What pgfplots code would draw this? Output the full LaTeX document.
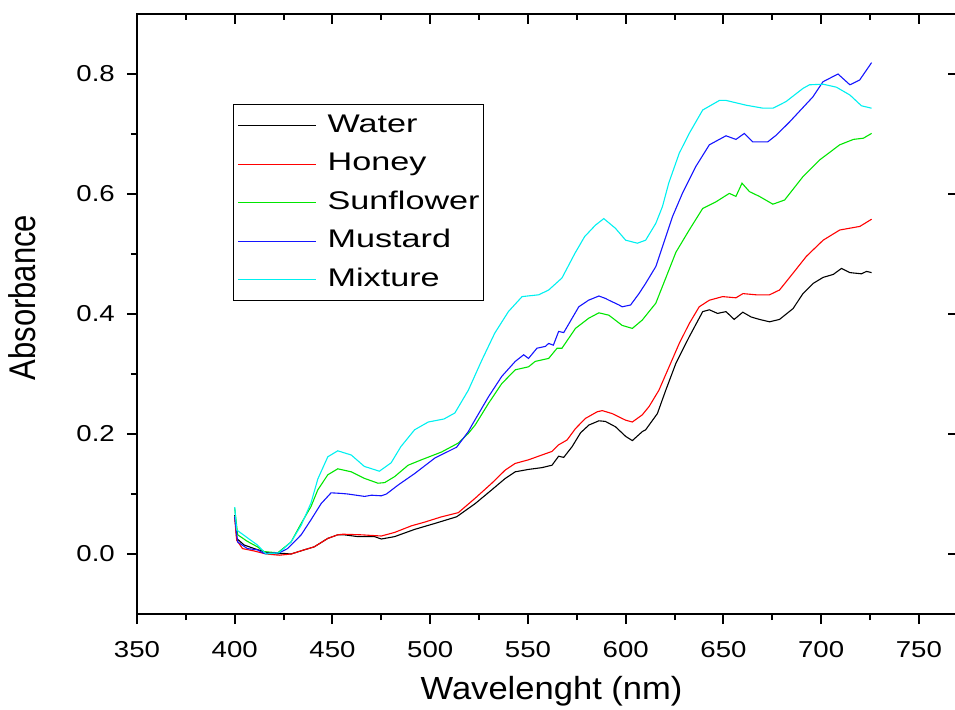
\documentclass[border=0pt]{standalone}
\usepackage{graphicx}
\usepackage{fontspec}
\setmainfont{Liberation Sans}
\newfontfamily\tickfont[FakeStretch=1.2]{Liberation Sans}
\newfontfamily\legfont[FakeStretch=1.34]{Liberation Sans}
\newfontfamily\xlabfont[FakeStretch=1.08]{Liberation Sans}
\usepackage{pgfplots}
\pgfplotsset{compat=1.18}
\usetikzlibrary{calc}
\definecolor{cgreen}{RGB}{0,230,0}
\definecolor{cblue}{RGB}{20,20,255}
\definecolor{ccyan}{RGB}{0,240,240}
\begin{document}
\begin{tikzpicture}
\begin{axis}[
  name=main,
  scale only axis, width=821pt, height=600pt,
  xmin=350, xmax=770, ymin=-0.1, ymax=0.9,
  axis line style={line width=2pt},
  xtick={350,400,450,500,550,600,650,700,750},
  xticklabels={350,400,450,500,550,600,650,700,750},
  ytick={0,0.2,0.4,0.6,0.8},
  yticklabels={0.0,0.2,0.4,0.6,0.8},
  minor x tick num=1, minor y tick num=1,
  xtick pos=left, ytick pos=left,
  tick align=outside,
  major tick length=10pt, minor tick length=6pt,
  every tick/.style={black, line width=2pt},
  every minor tick/.style={black, line width=2pt},
  /pgf/number format/assume math mode=true,
  xticklabel style={font=\tickfont\fontsize{23}{23}\selectfont, inner sep=0pt, yshift=-17pt},
  yticklabel style={font=\tickfont\fontsize{23}{23}\selectfont, inner sep=0pt, xshift=-12pt},
  xlabel={\xlabfont\fontsize{32}{32}\selectfont Wavelenght (nm)},
  xlabel style={at={(axis description cs:0.505,-0.1417)}, anchor=base},
  ylabel={\scalebox{1}[1.2]{\fontsize{31}{31}\selectfont Absorbance}},
  ylabel style={at={(axis description cs:-0.1242,0.5275)}, anchor=base},
  legend style={at={(rel axis cs:0.1169,0.85)}, anchor=north west, draw=black, line width=1.2pt,
    inner xsep=4pt, inner ysep=9.5pt, font=\legfont\fontsize{25.5}{25.5}\selectfont,
    row sep=15.5pt, nodes={inner sep=0pt, text height=18pt, text depth=5pt},
    /tikz/every odd column/.append style={column sep=11pt}},
  legend cell align=left,
  legend image code/.code={\draw[#1] (0pt,0pt) -- (78pt,0pt);},
]
\coordinate (BL) at (rel axis cs:0,0);
\coordinate (TR) at (rel axis cs:1,1);
\addplot[black, line width=1.1pt] coordinates {
(400,0.065)(401,0.026)(404.8,0.015)(410,0.009)(415,0.004)(420,0.0)(425,0.001)(428.8,0.0)(435.6,0.007)(440.7,0.012)(447.6,0.026)(452.7,0.032)(456,0.032)(463,0.029)(471.5,0.029)(475,0.025)(481.8,0.029)(492,0.041)(502.4,0.051)(513.5,0.062)(523,0.084)(531.5,0.107)(538.4,0.126)(543.5,0.137)(550.3,0.141)(557.2,0.144)(562.3,0.148)(565.7,0.163)(568.3,0.161)(572.6,0.179)(576.9,0.202)(581.2,0.215)(586.3,0.222)(589.6,0.221)(594.8,0.212)(600,0.196)(603.4,0.189)(608.5,0.204)(610.2,0.207)(616.2,0.234)(620.5,0.273)(625.7,0.318)(632.5,0.362)(639.4,0.404)(642.8,0.407)(647,0.401)(651.3,0.404)(655.5,0.391)(659.9,0.403)(664.2,0.395)(668.4,0.391)(673.6,0.387)(678.7,0.391)(685.6,0.409)(690.7,0.434)(695.9,0.451)(701,0.461)(706.2,0.466)(710.4,0.476)(714.7,0.469)(720.6,0.467)(723.2,0.471)(725.8,0.469)
};
\addlegendentry{Water}
\addplot[red, line width=1.1pt] coordinates {
(400,0.06)(401,0.023)(404,0.009)(410,0.005)(416,0.0)(422.8,-0.002)(428.8,0.0)(435.6,0.007)(440.7,0.012)(447.6,0.026)(452.7,0.032)(455.3,0.033)(464.7,0.032)(475,0.03)(481.8,0.036)(490.4,0.047)(497,0.053)(505.8,0.062)(514.4,0.069)(523,0.093)(531.5,0.118)(538.4,0.14)(543.5,0.151)(550.3,0.157)(555.4,0.163)(562.3,0.171)(565.7,0.182)(570,0.19)(574.3,0.209)(579.4,0.226)(585.4,0.237)(588,0.239)(593.1,0.234)(600,0.223)(603.4,0.22)(608.5,0.232)(612,0.246)(617,0.273)(622.2,0.312)(627.4,0.351)(632.5,0.384)(637.6,0.412)(642.8,0.423)(649.6,0.429)(656.4,0.427)(660,0.434)(666.7,0.432)(673.6,0.432)(678.7,0.44)(685.6,0.468)(692.4,0.496)(701,0.523)(709.5,0.54)(719.8,0.546)(725.8,0.558)
};
\addlegendentry{Honey}
\addplot[cgreen, line width=1.1pt] coordinates {
(400,0.076)(401.5,0.032)(406.5,0.021)(411.6,0.012)(415,0.004)(422,0.002)(428.8,0.02)(434,0.051)(439,0.079)(442.5,0.107)(447.6,0.132)(452.7,0.142)(459.6,0.137)(466.4,0.126)(473.3,0.118)(476.7,0.119)(481.8,0.129)(488.7,0.148)(495.5,0.157)(505.8,0.17)(514.4,0.185)(519.5,0.201)(523,0.215)(529.8,0.251)(536.6,0.284)(543.5,0.307)(550.3,0.312)(553.7,0.321)(560.6,0.326)(564.9,0.343)(567.4,0.343)(574.3,0.376)(581.1,0.393)(586.3,0.402)(591.4,0.398)(598.2,0.381)(603.4,0.376)(608.5,0.39)(615.4,0.418)(620.5,0.46)(625.7,0.503)(632.5,0.54)(639.4,0.576)(646.2,0.587)(653,0.601)(656.4,0.596)(659.5,0.618)(663.3,0.604)(668.4,0.596)(675.3,0.583)(681.3,0.59)(690.7,0.629)(699.3,0.657)(709.5,0.682)(716.5,0.691)(721.6,0.693)(725.8,0.701)
};
\addlegendentry{Sunflower}
\addplot[cblue, line width=1.1pt] coordinates {
(400,0.062)(401.5,0.02)(406.5,0.009)(411.6,0.007)(415,0.001)(422.8,0.002)(427,0.009)(434,0.032)(439,0.057)(444.2,0.084)(449.3,0.102)(454.4,0.101)(457.9,0.1)(466.4,0.096)(470,0.098)(475,0.097)(477.6,0.1)(483.6,0.115)(492,0.134)(502.4,0.16)(513.5,0.178)(519.5,0.204)(521.2,0.214)(529.8,0.262)(536.6,0.296)(543.5,0.321)(547.8,0.332)(550.3,0.326)(554.6,0.343)(558.9,0.346)(560.6,0.351)(563,0.348)(565.7,0.371)(568.3,0.369)(572.6,0.393)(576,0.412)(581,0.423)(586.3,0.43)(589.6,0.426)(591.4,0.423)(596.6,0.415)(598.2,0.412)(602.5,0.415)(606.8,0.434)(610.2,0.451)(615.4,0.479)(618.8,0.512)(623.9,0.562)(629,0.601)(635.9,0.646)(642.8,0.682)(651.3,0.697)(656.4,0.691)(660.7,0.701)(665,0.687)(672.7,0.687)(677,0.698)(683.8,0.72)(695.8,0.762)(700.9,0.787)(708.6,0.8)(714.7,0.782)(719.7,0.79)(725.8,0.819)
};
\addlegendentry{Mustard}
\addplot[ccyan, line width=1.1pt] coordinates {
(400,0.078)(401,0.04)(406.5,0.027)(411.6,0.015)(416,0.0)(422.6,0.002)(428.8,0.02)(434,0.048)(439,0.085)(442.5,0.125)(447.6,0.162)(452.7,0.172)(459.6,0.165)(466.3,0.146)(474,0.138)(480,0.152)(485,0.179)(492,0.207)(499,0.22)(507,0.225)(512.6,0.235)(519.5,0.273)(526.4,0.323)(533,0.368)(540,0.404)(547,0.429)(555.5,0.432)(560.6,0.44)(567.4,0.46)(574,0.501)(579,0.529)(584.5,0.548)(588.8,0.559)(594.7,0.543)(600,0.523)(606,0.518)(610.2,0.523)(615.4,0.551)(618.8,0.579)(622,0.618)(627.4,0.668)(632.5,0.701)(639.4,0.74)(648,0.756)(651.3,0.756)(661.6,0.748)(670.3,0.743)(675.4,0.743)(682,0.754)(690.7,0.776)(694,0.782)(701,0.783)(707.8,0.778)(714.7,0.765)(720.6,0.747)(725.8,0.743)
};
\addlegendentry{Mixture}
\end{axis}
\begin{axis}[
  scale only axis, width=821pt, height=600pt,
  xmin=350, xmax=770, ymin=-0.1, ymax=0.9,
  axis line style={line width=2pt},
  xtick={350,400,450,500,550,600,650,700,750},
  ytick={0,0.2,0.4,0.6,0.8},
  xticklabels={}, yticklabels={},
  minor x tick num=1,
  xtick pos=right, ytick pos=right,
  tick align=inside,
  major tick length=10pt, minor tick length=6pt,
  every tick/.style={black, line width=2pt},
  every minor tick/.style={black, line width=2pt},
]
\end{axis}
\pgfresetboundingbox
\path[use as bounding box] ($(BL)+(-137pt,-95pt)$) rectangle ($(TR)+(-3pt,14pt)$);
\end{tikzpicture}
\end{document}
